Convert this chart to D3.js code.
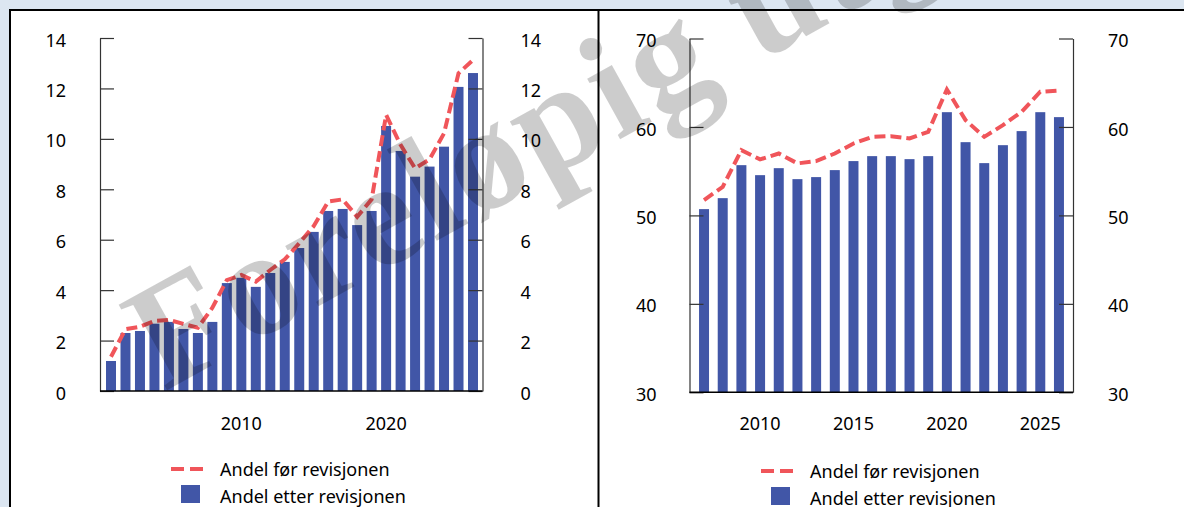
<!DOCTYPE html>
<html>
<head>
<meta charset="utf-8">
<script src="https://cdn.jsdelivr.net/npm/d3@7"></script>
<style>
  body { margin: 0; background: #dce6f1; }
  svg { display: block; font-family: "Noto Sans", sans-serif; }
</style>
</head>
<body>
<svg id="chart" width="1184" height="507"></svg>
<script>
// left panel, 2001-2026
var yearsLeft = [2001, 2002, 2003, 2004, 2005, 2006, 2007, 2008, 2009, 2010, 2011, 2012, 2013,
  2014, 2015, 2016, 2017, 2018, 2019, 2020, 2021, 2022, 2023, 2024, 2025, 2026]
var afterLeft = [1.19, 2.30, 2.38, 2.67, 2.74, 2.46, 2.30, 2.74, 4.28, 4.49, 4.13, 4.68, 5.12,
  5.67, 6.31, 7.14, 7.22, 6.58, 7.14, 10.51, 9.52, 8.50, 8.90, 9.69, 12.06, 12.61]
var beforeLeft = [1.36, 2.45, 2.55, 2.78, 2.82, 2.66, 2.51, 3.30, 4.40, 4.60, 4.34, 4.80, 5.22,
  5.86, 6.54, 7.51, 7.60, 6.91, 7.60, 10.95, 9.76, 8.83, 9.19, 10.22, 12.60, 13.13]
var ticksLeft = [0, 2, 4, 6, 8, 10, 12, 14]
var xLabelsLeft = [2010, 2020]

// right panel, 2007-2026
var yearsRight = [2007, 2008, 2009, 2010, 2011, 2012, 2013, 2014, 2015, 2016, 2017, 2018, 2019,
  2020, 2021, 2022, 2023, 2024, 2025, 2026]
var afterRight = [50.71, 51.95, 55.68, 54.55, 55.34, 54.10, 54.33, 55.12, 56.14, 56.70, 56.70,
  56.36, 56.70, 61.67, 58.28, 55.91, 57.94, 59.53, 61.67, 61.11]
var beforeRight = [51.73, 53.23, 57.38, 56.33, 57.00, 55.88, 56.14, 57.00, 58.13, 58.88, 58.96,
  58.70, 59.45, 64.24, 60.77, 58.88, 60.20, 61.71, 63.98, 64.12]
var ticksRight = [30, 40, 50, 60, 70]
var xLabelsRight = [2010, 2015, 2020, 2025]

var legendNames = ["Andel før revisjonen", "Andel etter revisjonen"]

var barColor = "#4156a7", lineColor = "#f0555a"
var svg = d3.select("#chart")

// white panels with frame
svg.append("rect").attr("x", 10).attr("y", 10).attr("width", 1180).attr("height", 510)
  .attr("fill", "#fff").attr("stroke", "#000").attr("stroke-width", 2)
svg.append("line").attr("x1", 598.5).attr("x2", 598.5).attr("y1", 10).attr("y2", 507)
  .attr("stroke", "#000").attr("stroke-width", 2)

function panel(o) {
  var g = svg.append("g")
  var x = d3.scaleBand().domain(o.years).range(o.xr).paddingInner(o.pi).paddingOuter(o.po)
  var y = d3.scaleLinear().domain(o.dom).range(o.yr)

  g.selectAll("rect.bar").data(o.after).enter().append("rect")
    .attr("class", "bar")
    .attr("x", (d, i) => x(o.years[i]))
    .attr("width", x.bandwidth())
    .attr("y", d => y(d))
    .attr("height", d => y(o.dom[0]) - y(d))
    .attr("fill", barColor)

  var line = d3.line()
    .x((d, i) => x(o.years[i]) + x.bandwidth() / 2)
    .y(d => y(d))
  g.append("path").datum(o.before).attr("d", line)
    .attr("fill", "none").attr("stroke", lineColor).attr("stroke-width", 4)
    .attr("stroke-dasharray", "11,5")

  var left = g.append("g").attr("transform", "translate(" + o.ax[0] + ",0)")
    .call(d3.axisLeft(y).tickValues(o.ticks).tickSize(-14).tickSizeOuter(0).tickPadding(o.pad[0]))
  var right = g.append("g").attr("transform", "translate(" + o.ax[1] + ",0)")
    .call(d3.axisRight(y).tickValues(o.ticks).tickSize(-14).tickSizeOuter(0).tickPadding(o.pad[1]))
  ;[left, right].forEach(function(a) {
    a.selectAll("path, line").attr("stroke", "#333").attr("stroke-width", 1.2)
    a.selectAll("text").attr("font-size", 18).attr("fill", "#000")
      .attr("font-family", "Noto Sans").attr("dy", "0.45em")
  })

  g.append("line").attr("x1", o.ax[0]).attr("x2", o.ax[1])
    .attr("y1", y(o.dom[0])).attr("y2", y(o.dom[0]))
    .attr("stroke", "#000").attr("stroke-width", 1.5)

  g.selectAll("text.xl").data(o.xLabels).enter().append("text")
    .attr("class", "xl")
    .attr("x", d => x(d) + x.bandwidth() / 2)
    .attr("y", 430)
    .attr("text-anchor", "middle").attr("font-size", 18)
    .text(d => d)

  // legend
  var lg = g.append("g").attr("transform", "translate(" + o.legend[0] + "," + o.legend[1] + ")")
  lg.append("line").attr("x1", 0).attr("x2", 32).attr("y1", 0).attr("y2", 0)
    .attr("stroke", lineColor).attr("stroke-width", 4).attr("stroke-dasharray", "13,6")
  lg.append("rect").attr("x", 10).attr("y", 16).attr("width", 19).attr("height", 18)
    .attr("fill", barColor)
  lg.selectAll("text").data(legendNames).enter().append("text")
    .attr("x", 49).attr("y", (d, i) => 7 + i * 27)
    .attr("font-size", 18).text(d => d)
}

panel({
  years: yearsLeft, after: afterLeft, before: beforeLeft, ticks: ticksLeft, xLabels: xLabelsLeft,
  dom: [0, 14], yr: [391, 38], xr: [102, 482], pi: 0.31, po: 0.277,
  ax: [100, 482.5], pad: [34, 38], legend: [171, 469]
})
panel({
  years: yearsRight, after: afterRight, before: beforeRight, ticks: ticksRight, xLabels: xLabelsRight,
  dom: [30, 70], yr: [392.3, 38.5], xr: [690, 1073], pi: 0.465, po: 0.484,
  ax: [689.5, 1073], pad: [33, 35], legend: [761, 471]
})

// watermark on top
svg.append("text")
  .attr("x", 164).attr("y", 392)
  .attr("transform", "rotate(-29,164,392)")
  .attr("font-family", "Liberation Serif").attr("font-weight", "bold")
  .attr("font-size", 150).attr("letter-spacing", 3)
  .attr("fill", "#000").attr("fill-opacity", 0.2)
  .text("Foreløpig utgave")
</script>
</body>
</html>
